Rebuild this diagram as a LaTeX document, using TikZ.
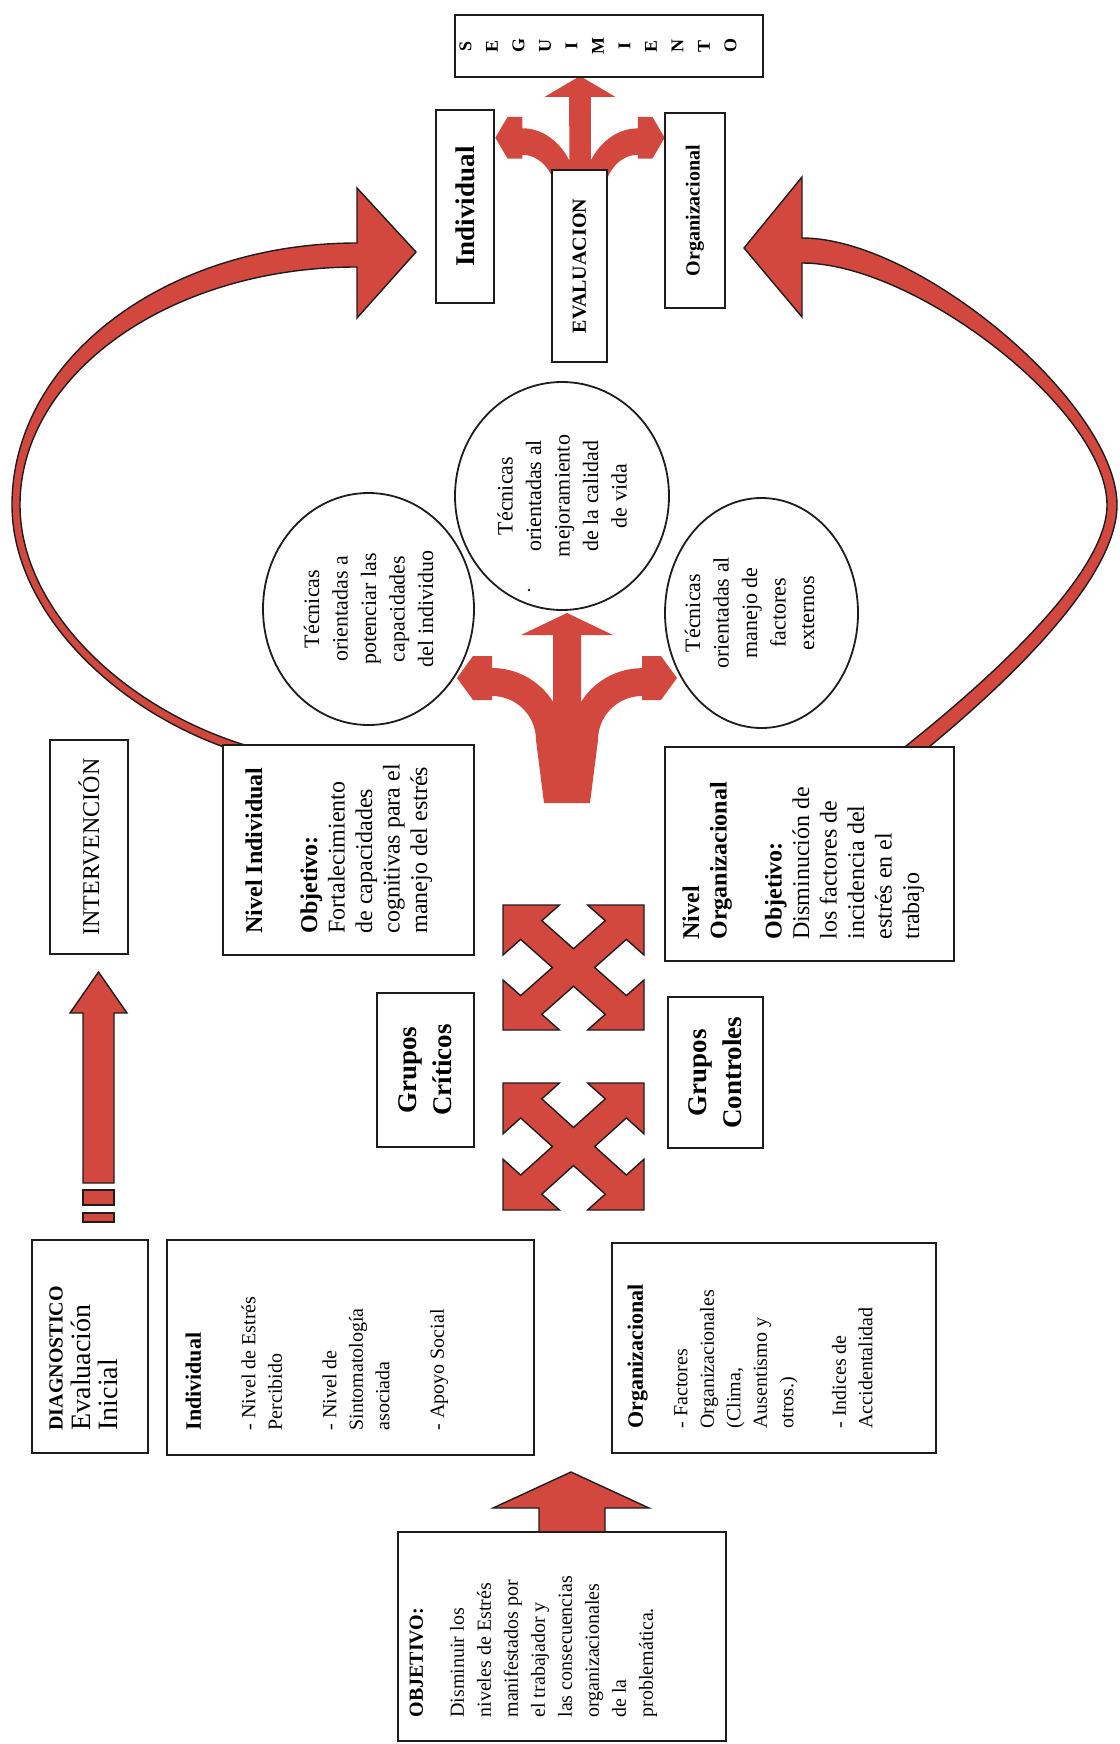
\documentclass[tikz,border=0pt]{standalone}
\usepackage{fontspec}
\setmainfont{Liberation Serif}
\usetikzlibrary{shapes.geometric}
\definecolor{arrowred}{RGB}{210,72,62}
\definecolor{inkline}{RGB}{30,28,28}

\tikzset{
  frame/.style={draw=inkline, line width=0.9pt, fill=white, rotate=90, inner sep=0pt},
  lbl/.style={rotate=90, anchor=north west, align=left, inner sep=0pt},
  oval/.style={ellipse, draw=inkline, line width=0.9pt, fill=white, rotate=90, inner sep=0pt},
  ovaltext/.style={rotate=90, align=center, font=\fontsize{11}{14.25}\selectfont},
  blockarrow/.style={fill=arrowred, draw=inkline, line width=0.7pt, line join=miter},
  % three-way branching arrow, tip of the middle branch at the origin
  trident/.pic={
    \fill[arrowred] (-23,190) -- (-31,127) arc[start angle=0, end angle=-90, radius=44]
      -- (-75,87) -- (-94,87) -- (-110,65) -- (-94,43) -- (-75,43) -- (-75,55)
      arc[start angle=-90, end angle=-32, radius=72]
      -- (-14,22) -- (-46,22) -- (0,0) -- (46,22) -- (14,22) -- (14,89)
      arc[start angle=-148, end angle=-90, radius=72]
      -- (75,43) -- (94,43) -- (110,65) -- (94,87) -- (75,87) -- (75,83)
      arc[start angle=-90, end angle=-180, radius=44] -- (23,190) -- cycle;
  },
  % four diagonal arrows, unit half-size
  crossarrow/.pic={
    \path[blockarrow] (0,0.3) -- (0.45,0.75) -- (0.2,1) -- (1,1) -- (1,0.2) -- (0.75,0.45)
      -- (0.3,0) -- (0.75,-0.45) -- (1,-0.2) -- (1,-1) -- (0.2,-1) -- (0.45,-0.75)
      -- (0,-0.3) -- (-0.45,-0.75) -- (-0.2,-1) -- (-1,-1) -- (-1,-0.2) -- (-0.75,-0.45)
      -- (-0.3,0) -- (-0.75,0.45) -- (-1,0.2) -- (-1,1) -- (-0.2,1) -- (-0.45,0.75) -- cycle;
  },
}

\begin{document}
\begin{tikzpicture}[x=0.5pt, y=-0.5pt]
\useasboundingbox (0,0) rectangle (1119,1744);

% ---- curved return arrows towards the evaluation ----
\path[blockarrow] (357,243) .. controls (165,243) and (12,360) .. (12,505)
  .. controls (12,612) and (118,716) .. (245,754) -- (248,746)
  .. controls (122,708) and (20,608) .. (20,505)
  .. controls (20,374) and (170,267) .. (357,267)
  -- (357,318) -- (416,252) -- (357,188) -- cycle;
\path[blockarrow] (802,238) .. controls (920,238) and (1117,405) .. (1117,505)
  .. controls (1117,580) and (1004,686) .. (918,756) -- (906,746)
  .. controls (996,674) and (1107,572) .. (1107,505)
  .. controls (1107,411) and (916,263) .. (802,263)
  -- (802,317) -- (744,248) -- (802,177) -- cycle;

% ---- branching arrows ----
\pic at (567,613) {trident};
\pic[xscale=0.77, yscale=0.95] at (580,76) {trident};

% ---- straight arrows ----
\path[blockarrow] (539,1545) -- (539,1508) -- (493,1508) -- (571,1472)
  -- (649,1508) -- (605,1508) -- (605,1545) -- cycle;
\path[blockarrow] (83,1183) -- (83,1013) -- (70,1013) -- (98.5,972)
  -- (127,1013) -- (114,1013) -- (114,1183) -- cycle;
\path[blockarrow] (83,1190) rectangle (114,1205);
\path[blockarrow] (83,1213) rectangle (114,1222);

\pic[xscale=70.5, yscale=62.5] at (573.5,967.5) {crossarrow};
\pic[xscale=70.5, yscale=63.5] at (573.5,1146.5) {crossarrow};

% ---- objective and diagnosis ----
\node[frame, minimum width=104.5pt, minimum height=164pt] (obj) at (562,1636.5) {};
\node[lbl, inner xsep=12pt, inner ysep=6pt, font=\fontsize{10}{13.5}\selectfont] (objtxt) at (obj.north west)
  {\textbf{OBJETIVO:}\\[7pt] Disminuir los\\ niveles de Estrés\\ manifestados por\\ el trabajador y\\
   las consecuencias\\ organizacionales\\ de la\\ problemática.};

\node[frame, minimum width=106.5pt, minimum height=58pt] (diag) at (90,1346.5) {};
\node[lbl, inner xsep=11.5pt, inner ysep=9pt, font=\fontsize{14}{13.75}\selectfont] (diagtxt) at (diag.north west)
  {\textbf{\fontsize{10}{12}\selectfont DIAGNOSTICO}\\ Evaluación\\ Inicial};

\node[frame, minimum width=107.5pt, minimum height=183.5pt] (dind) at (350.5,1347.5) {};
\node[lbl, inner xsep=12.5pt, inner ysep=9.5pt, font=\fontsize{10}{13.25}\selectfont] (dindtxt) at (dind.north west)
  {\textbf{\fontsize{11}{13.25}\selectfont Individual}\\[14pt]
   - Nivel de Estrés\\ Percibido\\[14pt] - Nivel de\\ Sintomatología\\ asociada\\[14pt] - Apoyo Social};

\node[frame, minimum width=105pt, minimum height=162pt] (dorg) at (774,1348) {};
\node[lbl, inner xsep=12.5pt, inner ysep=8pt, font=\fontsize{10}{13.25}\selectfont] (dorgtxt) at (dorg.north west)
  {\textbf{\fontsize{11}{13.25}\selectfont Organizacional}\\[9pt]
   - Factores\\ Organizacionales\\ (Clima,\\ Ausentismo y\\ otros.)\\[13pt] - Indices de\\ Accidentalidad};

% ---- intervention ----
\node[frame, minimum width=107pt, minimum height=39pt, font=\fontsize{12}{13}\selectfont] (inter) at (89,847) {INTERVENCIÓN};

\node[frame, minimum width=105pt, minimum height=125.5pt] (nind) at (348.5,850) {};
\node[lbl, inner xsep=11pt, inner ysep=11.5pt, font=\fontsize{12}{13.75}\selectfont] (nindtxt) at (nind.north west)
  {\textbf{Nivel Individual}\\[13.75pt] \textbf{Objetivo:}\\ Fortalecimiento\\ de capacidades\\
   cognitivas para el\\ manejo del estrés};

\node[frame, minimum width=107pt, minimum height=144.5pt] (norg) at (809.5,854) {};
\node[lbl, inner xsep=11pt, inner ysep=9pt, font=\fontsize{12}{13.75}\selectfont] (norgtxt) at (norg.north west)
  {\textbf{Nivel}\\ \textbf{Organizacional}\\[13.75pt] \textbf{Objetivo:}\\ Disminución de\\
   los factores de\\ incidencia del\\ estrés en el\\ trabajo};

\node[frame, minimum width=77pt, minimum height=48.5pt, align=center,
  font=\bfseries\fontsize{13.5}{17.5}\selectfont] (gcrit) at (425.5,1070) {Grupos\\Críticos};
\node[frame, minimum width=75.5pt, minimum height=47.5pt, align=center,
  font=\bfseries\fontsize{13.5}{17.5}\selectfont] (gctrl) at (715.5,1072.5) {Grupos\\Controles};

% ---- techniques ----
\node[oval, minimum width=116pt, minimum height=105.5pt] (tec1) at (368.5,609) {};
\node[ovaltext] at (tec1) {Técnicas\\orientadas a\\potenciar las\\capacidades\\del individuo};
\node[oval, minimum width=114pt, minimum height=107pt] (tec2) at (562,496) {};
\node[ovaltext] at (tec2) {Técnicas\\orientadas al\\mejoramiento\\de la calidad\\de vida};
\fill[inkline] (529,590) circle[radius=1.4];
\node[oval, minimum width=115pt, minimum height=96.5pt] (tec3) at (761.5,613) {};
\node[ovaltext] at ([xshift=-6pt]tec3.center) {Técnicas\\orientadas al\\manejo de\\factores\\externos};

% ---- evaluation and follow-up ----
\node[frame, minimum width=96.5pt, minimum height=29pt, font=\bfseries\fontsize{13.5}{14}\selectfont] (eind) at (465,206.5) {Individual};
\node[frame, minimum width=96pt, minimum height=27.5pt, font=\bfseries\fontsize{10}{12}\selectfont] (eval) at (579.5,266) {EVALUACION};
\node[frame, minimum width=97.5pt, minimum height=30pt, font=\bfseries\fontsize{10}{12}\selectfont] (eorg) at (695,210.5) {Organizacional};
\node[frame, minimum width=31pt, minimum height=154pt] (seg) at (609,46) {};
\node[rotate=90, align=center, font=\bfseries\fontsize{9}{13.25}\selectfont] (segtxt) at (598,46)
  {S\\E\\G\\U\\I\\M\\I\\E\\N\\T\\O};
\end{tikzpicture}
\end{document}
